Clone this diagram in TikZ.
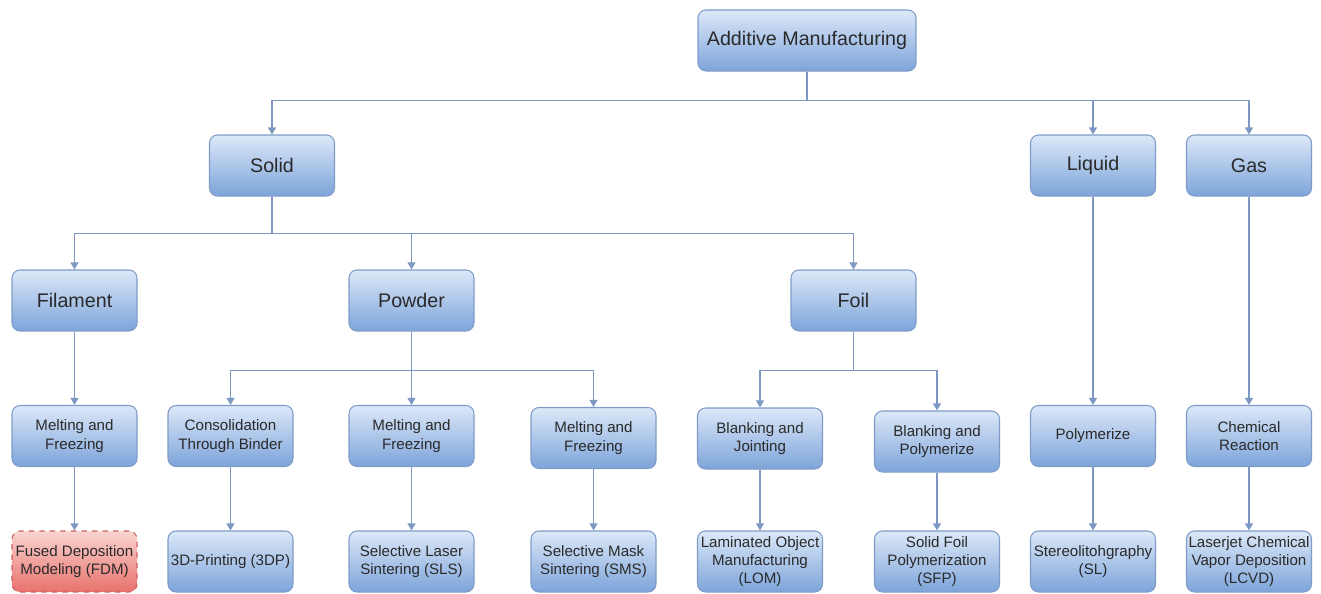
\documentclass[tikz,border=0pt]{standalone}
\usepackage{fontspec}
\setmainfont{Liberation Sans}
\usetikzlibrary{arrows.meta,positioning,calc}

\definecolor{boxtop}{HTML}{DCE8F8}
\definecolor{boxbot}{HTML}{7DA4DA}
\definecolor{boxedge}{HTML}{7F9CC8}
\definecolor{linkcol}{HTML}{7D98C2}
\definecolor{redtop}{HTML}{FAD4D0}
\definecolor{redbot}{HTML}{E8716C}
\definecolor{rededge}{HTML}{C9625E}
\definecolor{txt}{HTML}{2A2A2A}

\tikzset{
  stage/.style={draw=boxedge, rounded corners=0.16cm, top color=boxtop, bottom color=boxbot,
    minimum width=2.5cm, minimum height=1.22cm, text=txt, align=center, inner sep=1pt,
    line width=0.6pt, font=\fontsize{11.2}{13}\selectfont},
  method/.style={stage, font=\fontsize{8.6}{10.4}\selectfont},
  picked/.style={method, top color=redtop, bottom color=redbot, draw=rededge, dashed},
  link/.style={draw=linkcol, line width=0.8pt, -{Triangle[length=4pt,width=4.5pt]}}
}

\begin{document}
\begin{tikzpicture}
    \useasboundingbox (0,0) rectangle (26.42,-11.86);

    % root
    \node[stage, minimum width=4.36cm] (am) at (16.14,-0.81) {Additive Manufacturing};

    % states of matter
    \node[stage] (solid)  at (5.44,-3.31)  {Solid};
    \node[stage] (liquid) at (21.86,-3.31) {Liquid};
    \node[stage] (gas)    at (24.98,-3.31) {Gas};

    % solid forms
    \node[stage] (fil)    at (1.49,-6.01)  {Filament};
    \node[stage] (powder) at (8.23,-6.01)  {Powder};
    \node[stage] (foil)   at (17.07,-6.01) {Foil};

    % principles
    \node[method] (melt1) at (1.49,-8.72)  {Melting and\\Freezing};
    \node[method] (cons)  at (4.61,-8.72)  {Consolidation\\Through Binder};
    \node[method] (melt2) at (8.23,-8.72)  {Melting and\\Freezing};
    \node[method] (melt3) at (11.87,-8.76) {Melting and\\Freezing};
    \node[method] (blkj)  at (15.20,-8.77) {Blanking and\\Jointing};
    \node[method] (blkp)  at (18.74,-8.83) {Blanking and\\Polymerize};
    \node[method] (poly)  at (21.86,-8.72) {Polymerize};
    \node[method] (chem)  at (24.98,-8.72) {Chemical\\Reaction};

    % processes
    \node[picked] (fdm)  at (1.49,-11.23)  {Fused Deposition\\Modeling (FDM)};
    \node[method] (tdp)  at (4.61,-11.23)  {3D-Printing (3DP)};
    \node[method] (sls)  at (8.23,-11.23)  {Selective Laser\\Sintering (SLS)};
    \node[method] (sms)  at (11.87,-11.23) {Selective Mask\\Sintering (SMS)};
    \node[method] (lom)  at (15.20,-11.23) {Laminated Object\\Manufacturing\\(LOM)};
    \node[method] (sfp)  at (18.74,-11.23) {Solid Foil\\Polymerization\\(SFP)};
    \node[method] (sl)   at (21.86,-11.23) {Stereolitohgraphy\\(SL)};
    \node[method] (lcvd) at (24.98,-11.23) {Laserjet Chemical\\Vapor Deposition\\(LCVD)};

    % root branches
    \foreach \n in {solid,liquid,gas}
        \draw[link] (am.south) -- ++(0,-0.58) -| (\n.north);

    % solid branches
    \foreach \n in {fil,powder,foil}
        \draw[link] (solid.south) -- ++(0,-0.74) -| (\n.north);

    % powder and foil branches
    \foreach \n in {cons,melt2,melt3}
        \draw[link] (powder.south) -- ++(0,-0.78) -| (\n.north);
    \foreach \n in {blkj,blkp}
        \draw[link] (foil.south) -- ++(0,-0.78) -| (\n.north);

    % straight links
    \foreach \a/\b in {fil/melt1,melt1/fdm,cons/tdp,melt2/sls,melt3/sms,blkj/lom,blkp/sfp,
                       liquid/poly,poly/sl,gas/chem,chem/lcvd}
        \draw[link] (\a.south) -- (\b.north);
\end{tikzpicture}
\end{document}
